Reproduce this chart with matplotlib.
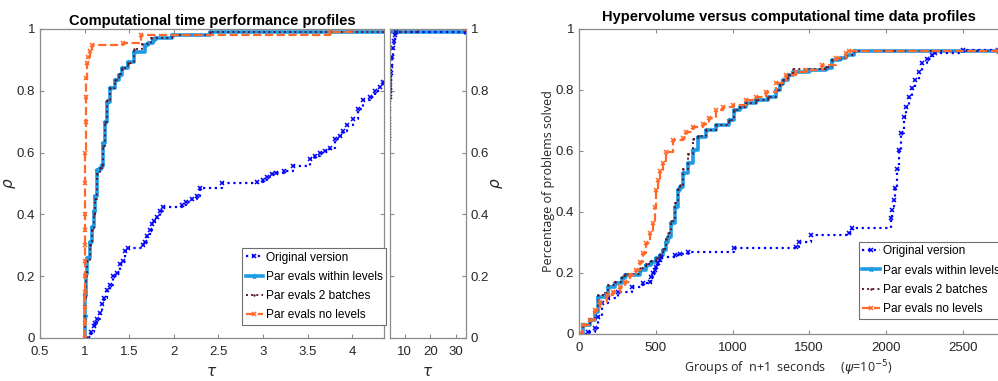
import numpy as np
import matplotlib
matplotlib.use('Agg')
import matplotlib.pyplot as plt

plt.rcParams['font.family'] = ['Liberation Sans', 'DejaVu Sans']
plt.rcParams['mathtext.fontset'] = 'dejavusans'

# --- performance profiles (left) ---
orig_tau = [1.04, 1.07, 1.10, 1.12, 1.14, 1.17, 1.20, 1.22, 1.25, 1.28,
            1.32, 1.36, 1.40, 1.43, 1.45, 1.49, 1.65, 1.68, 1.70, 1.73,
            1.75, 1.78, 1.81, 1.85, 1.88, 2.09, 2.14, 2.20, 2.26, 2.29,
            2.54, 2.93, 3.00, 3.04, 3.10, 3.15, 3.23, 3.34, 3.53, 3.58,
            3.64, 3.70, 3.75, 3.81, 3.86, 3.90, 3.94, 4.01, 4.07, 4.12,
            4.20, 4.26, 4.31, 4.35, 4.45, 4.70, 4.90, 5.10, 5.40, 5.80,
            6.20, 6.60]
orig_rho = [0.00, 0.02, 0.04, 0.05, 0.06, 0.08, 0.11, 0.13, 0.155, 0.17,
            0.20, 0.21, 0.24, 0.25, 0.28, 0.29, 0.30, 0.31, 0.33, 0.35,
            0.37, 0.38, 0.39, 0.41, 0.425, 0.43, 0.44, 0.45, 0.46, 0.485,
            0.50, 0.505, 0.51, 0.52, 0.53, 0.535, 0.54, 0.555, 0.58, 0.59,
            0.60, 0.605, 0.615, 0.645, 0.655, 0.67, 0.69, 0.71, 0.74, 0.77,
            0.78, 0.80, 0.813, 0.83, 0.84, 0.857, 0.88, 0.91, 0.94, 0.96,
            0.98, 0.99]

lev_tau = [1.000, 1.003, 1.006, 1.01, 1.03, 1.06, 1.08, 1.10, 1.12, 1.14,
           1.17, 1.19, 1.21, 1.23, 1.25, 1.28, 1.34, 1.38, 1.42, 1.49,
           1.55, 1.68, 1.71, 1.77, 1.79, 1.98, 2.41]
lev_rho = [0.00, 0.07, 0.14, 0.21, 0.26, 0.31, 0.36, 0.41, 0.46, 0.544,
           0.55, 0.56, 0.63, 0.70, 0.765, 0.81, 0.835, 0.85, 0.873, 0.894,
           0.927, 0.948, 0.955, 0.964, 0.97, 0.98, 0.99]

b2_tau = [1.000, 1.003, 1.006, 1.01, 1.03, 1.06, 1.08, 1.10, 1.12, 1.14,
          1.17, 1.19, 1.21, 1.23, 1.25, 1.28, 1.34, 1.38, 1.42, 1.49,
          1.55, 1.64, 1.74, 1.98, 2.41, 15.0]
b2_rho = [0.00, 0.06, 0.13, 0.20, 0.25, 0.30, 0.35, 0.40, 0.45, 0.53,
          0.55, 0.56, 0.62, 0.70, 0.77, 0.81, 0.835, 0.855, 0.875, 0.89,
          0.935, 0.95, 0.97, 0.98, 0.99, 1.00]

nol_tau = [1.000, 1.000, 1.001, 1.001, 1.002, 1.002, 1.003, 1.003, 1.004, 1.005,
           1.007, 1.010, 1.015, 1.02, 1.03, 1.04, 1.06, 1.08, 1.43, 1.63,
           3.75, 4.00]
nol_rho = [0.00, 0.05, 0.10, 0.15, 0.20, 0.25, 0.30, 0.35, 0.40, 0.50,
           0.60, 0.70, 0.78, 0.84, 0.89, 0.91, 0.93, 0.948, 0.955, 0.98,
           0.99, 1.00]

# --- data profiles (right) ---
ho_t = [0, 60, 104, 125, 147, 190, 255, 342, 418, 461,
        472, 483, 493, 504, 515, 526, 537, 623, 656, 710,
        1012, 1413, 1434, 1510, 1759, 1780, 2035, 2040, 2050, 2062,
        2072, 2083, 2100, 2116, 2130, 2148, 2170, 2192, 2212, 2235,
        2265, 2300, 2322, 2505]
ho_v = [0, 0.008, 0.019, 0.057, 0.10, 0.117, 0.139, 0.155, 0.166, 0.171,
        0.188, 0.199, 0.21, 0.221, 0.232, 0.243, 0.253, 0.259, 0.262, 0.27,
        0.281, 0.286, 0.303, 0.325, 0.33, 0.346, 0.38, 0.407, 0.44, 0.48,
        0.54, 0.603, 0.66, 0.712, 0.745, 0.778, 0.805, 0.833, 0.86, 0.887,
        0.90, 0.915, 0.922, 0.93]

hl_t = [0, 28, 71, 104, 125, 169, 190, 234, 277, 299,
        396, 439, 472, 504, 526, 547, 569, 580, 602, 623,
        645, 656, 677, 710, 742, 775, 829, 894, 980, 1012,
        1050, 1088, 1153, 1229, 1283, 1310, 1326, 1360, 1391, 1499,
        1607, 1650, 1700, 1737, 1791]
hl_v = [0, 0.03, 0.046, 0.073, 0.122, 0.128, 0.155, 0.166, 0.183, 0.193,
        0.21, 0.226, 0.237, 0.248, 0.26, 0.275, 0.30, 0.319, 0.363, 0.417,
        0.472, 0.483, 0.527, 0.56, 0.603, 0.647, 0.669, 0.685, 0.702, 0.734,
        0.745, 0.756, 0.767, 0.778, 0.80, 0.82, 0.833, 0.85, 0.86, 0.866,
        0.871, 0.898, 0.905, 0.915, 0.929]

hb_t = [0, 28, 71, 104, 125, 169, 190, 234, 277, 299,
        396, 439, 472, 504, 526, 547, 569, 580, 602, 623,
        645, 656, 677, 710, 742, 775, 829, 894, 980, 1012,
        1050, 1088, 1153, 1229, 1283, 1310, 1326, 1360, 1391, 1607,
        1650, 1700, 1737, 1791]
hb_v = [0, 0.03, 0.05, 0.08, 0.128, 0.135, 0.16, 0.172, 0.188, 0.196,
        0.215, 0.23, 0.24, 0.25, 0.26, 0.278, 0.31, 0.33, 0.37, 0.43,
        0.475, 0.49, 0.54, 0.59, 0.64, 0.65, 0.67, 0.685, 0.702, 0.734,
        0.745, 0.756, 0.767, 0.778, 0.80, 0.82, 0.833, 0.85, 0.87, 0.875,
        0.898, 0.905, 0.915, 0.929]

hn_t = [0, 28, 71, 104, 136, 180, 223, 266, 299, 331,
        374, 396, 418, 439, 461, 483, 493, 504, 515, 530,
        547, 569, 612, 677, 699, 742, 807, 850, 894, 937,
        1001, 1088, 1153, 1218, 1283, 1348, 1413, 1478, 1586, 1672,
        1737, 1759]
hn_v = [0, 0.03, 0.046, 0.08, 0.106, 0.128, 0.139, 0.155, 0.171, 0.193,
        0.21, 0.237, 0.265, 0.297, 0.33, 0.363, 0.417, 0.472, 0.505, 0.535,
        0.56, 0.598, 0.636, 0.641, 0.663, 0.68, 0.69, 0.707, 0.734, 0.745,
        0.75, 0.767, 0.778, 0.795, 0.822, 0.849, 0.86, 0.866, 0.882, 0.904,
        0.92, 0.929]

labels = ['Original version', 'Par evals within levels',
          'Par evals 2 batches', 'Par evals no levels']

# STYLES
spine_color = '#8a8a8a'
text_color = '#262626'
tick_size = 9.5
legend_size = 8.6
styles = [
    dict(color='#0000ff', linestyle=':', linewidth=1.6, marker='x', markersize=2.8, markeredgewidth=1.1),
    dict(color='#1f9be6', linestyle='-', linewidth=2.6, marker='*', markersize=3.5),
    dict(color='#5a1a34', linestyle=':', linewidth=1.4, marker='.', markersize=1.5),
    dict(color='#ff6a2a', linestyle='--', linewidth=1.6, marker='x', markersize=2.8, markeredgewidth=1.1),
]
draw_order = [1, 0, 2, 3]

tau_left = (0.5, 4.357)
tau_right = (4.357, 33.8)
t_max = 2730


def extend(x, y, xmax):
    # carry the last value out to the edge of the axes
    return np.append(x, xmax), np.append(y, y[-1])


def style_axes(ax):
    for s in ax.spines.values():
        s.set_color(spine_color)
        s.set_linewidth(0.9)
    ax.tick_params(direction='in', length=3, color=spine_color, labelcolor=text_color,
                   labelsize=tick_size, top=True, right=True)
    ax.tick_params(axis='x', pad=6)
    ax.set_ylim(0, 1)
    ax.set_yticks([0, 0.2, 0.4, 0.6, 0.8, 1])
    ax.set_yticklabels(['0', '0.2', '0.4', '0.6', '0.8', '1'])


def place_labels(ax, xy_x, xy_y):
    ax.xaxis.label.set_va('center')
    ax.xaxis.set_label_coords(*xy_x)
    ax.yaxis.label.set_va('center')
    ax.yaxis.set_label_coords(*xy_y)


def add_legend(ax, handles, anchor):
    leg = ax.legend(handles=handles, loc='upper left', bbox_to_anchor=anchor,
                    borderaxespad=0, fontsize=legend_size, frameon=True, fancybox=False,
                    handlelength=1.5, handletextpad=0.2, labelspacing=0.6, borderpad=0.3)
    leg.get_frame().set_edgecolor('#6e6e6e')
    leg.get_frame().set_linewidth(0.8)
    leg.get_frame().set_alpha(1)


fig = plt.figure(figsize=(9.98, 3.81), dpi=100)
ax1 = fig.add_axes([0.0401, 0.1129, 0.3447, 0.811])
ax2 = fig.add_axes([0.3908, 0.1129, 0.0762, 0.811])
ax3 = fig.add_axes([0.5802, 0.1234, 0.4198, 0.8005])

left_series = [(orig_tau, orig_rho), (lev_tau, lev_rho), (b2_tau, b2_rho), (nol_tau, nol_rho)]
right_series = [(ho_t, ho_v), (hl_t, hl_v), (hb_t, hb_v), (hn_t, hn_v)]

handles_l = [None] * 4
handles_r = [None] * 4
for i in draw_order:
    x, y = extend(*left_series[i], tau_right[1])
    handles_l[i], = ax1.plot(x, y, drawstyle='steps-post', label=labels[i], **styles[i])
    ax2.plot(x, y, drawstyle='steps-post', **styles[i])
    x, y = extend(*right_series[i], t_max)
    handles_r[i], = ax3.plot(x, y, drawstyle='steps-post', label=labels[i], **styles[i])

# left panel
style_axes(ax1)
ax1.set_xlim(*tau_left)
ax1.set_xticks([0.5, 1, 1.5, 2, 2.5, 3, 3.5, 4])
ax1.set_xticklabels(['0.5', '1', '1.5', '2', '2.5', '3', '3.5', '4'])
ax1.set_title('Computational time performance profiles', fontsize=10.5, fontweight='bold', pad=3)
ax1.set_xlabel(r'$\tau$', fontsize=11, color=text_color)
ax1.set_ylabel(r'$\rho$', fontsize=11, color=text_color)
place_labels(ax1, (0.5, -0.11), (-0.087, 0.5))
add_legend(ax1, handles_l, (0.587, 0.291))

style_axes(ax2)
ax2.set_xlim(*tau_right)
ax2.set_xticks([10, 20, 30])
ax2.yaxis.tick_right()
ax2.tick_params(left=True, right=True)
ax2.yaxis.set_label_position('right')
ax2.set_xlabel(r'$\tau$', fontsize=11, color=text_color)
ax2.set_ylabel(r'$\rho$', fontsize=11, color=text_color)
place_labels(ax2, (0.5, -0.11), (1.41, 0.5))

# right panel
style_axes(ax3)
ax3.set_xlim(0, t_max)
ax3.set_xticks([0, 500, 1000, 1500, 2000, 2500])
ax3.spines['right'].set_visible(False)
ax3.tick_params(right=False)
ax3.set_title('Hypervolume versus computational time data profiles',
              fontsize=10.5, fontweight='bold', pad=6)
ax3.set_xlabel(r'Groups of  n+1  seconds     ($\psi$=10$^{-5}$)',
               fontsize=9, color=text_color, family=['Open Sans', 'DejaVu Sans'])
ax3.set_ylabel('Percentage of problems solved', fontsize=9, color=text_color,
               family=['Open Sans', 'DejaVu Sans'])
place_labels(ax3, (0.5, -0.111), (-0.074, 0.5))
add_legend(ax3, handles_r, (0.668, 0.302))

fig.savefig('out.png', dpi=100)
